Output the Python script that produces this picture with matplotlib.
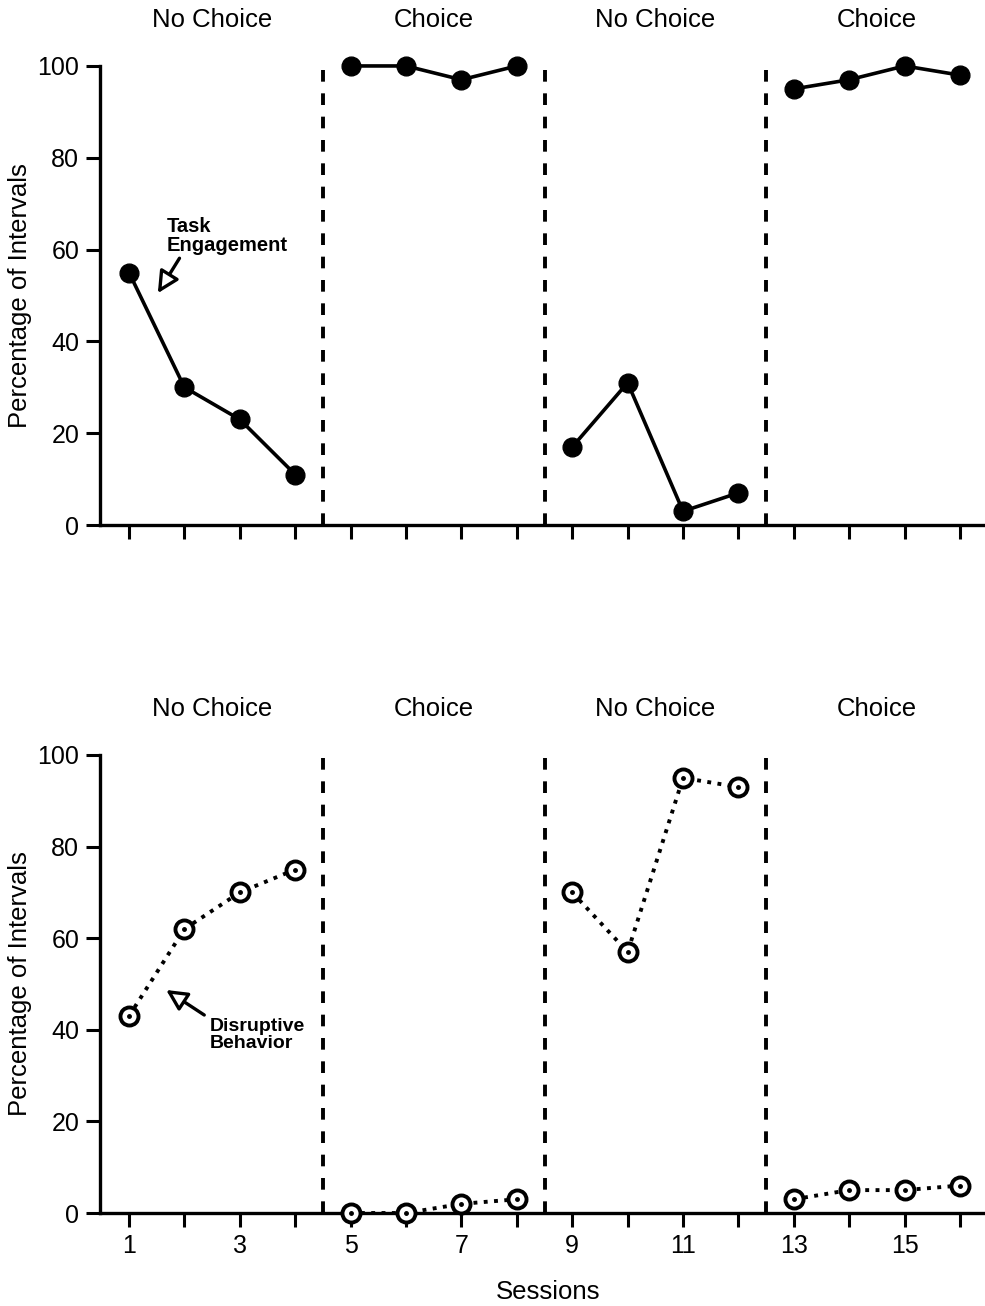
import matplotlib
matplotlib.use("Agg")
import matplotlib.pyplot as plt
import numpy as np

plt.rcParams['font.family'] = ['Liberation Sans', 'DejaVu Sans']

sessions = np.arange(1, 17)
phase_names = ["No Choice", "Choice", "No Choice", "Choice"]
phase_breaks = [4.5, 8.5, 12.5]
phase_groups = [[1, 2, 3, 4], [5, 6, 7, 8], [9, 10, 11, 12], [13, 14, 15, 16]]

# task engagement (top panel)
engagement = [55, 30, 23, 11, 100, 100, 97, 100, 17, 31, 3, 7, 95, 97, 100, 98]
# disruptive behavior (bottom panel)
disruptive = [43, 62, 70, 75, 0, 0, 2, 3, 70, 57, 95, 93, 3, 5, 5, 6]

yticks = [0, 20, 40, 60, 80, 100]
xtick_labels = ["1", "", "3", "", "5", "", "7", "", "9", "", "11", "", "13", "", "15", ""]

fig = plt.figure(figsize=(9.85, 13.06), dpi=100)
ax1 = fig.add_axes([0.1015, 0.598, 0.8985, 0.3515])
ax2 = fig.add_axes([0.1015, 0.0712, 0.8985, 0.3507])


def style_axis(ax, show_labels):
    ax.set_xlim(0.476, 16.45)
    ax.set_ylim(0, 100)
    for s in ["top", "right"]:
        ax.spines[s].set_visible(False)
    ax.spines["left"].set_linewidth(2.4)
    ax.spines["bottom"].set_linewidth(2.4)
    ax.set_yticks(yticks)
    ax.set_xticks(sessions)
    if show_labels:
        ax.set_xticklabels(xtick_labels)
    else:
        ax.set_xticklabels([])
    ax.tick_params(axis="both", direction="out", length=10, width=2.2, labelsize=18, pad=5)
    ax.set_ylabel("Percentage of Intervals", fontsize=18.5, labelpad=4)
    for b in phase_breaks:
        ax.axvline(b, color="black", linestyle=(0, (3, 3)), linewidth=2.8, ymax=1.0, clip_on=False)
    for name, grp in zip(phase_names, phase_groups):
        ax.text(np.mean(grp), 110, name, ha="center", va="center", fontsize=18.5)


style_axis(ax1, False)
style_axis(ax2, True)

eng = np.array(engagement)
dis = np.array(disruptive)
for grp in phase_groups:
    idx = np.array(grp) - 1
    ax1.plot(sessions[idx], eng[idx], color="black", linewidth=2.6, marker="o",
             markersize=13.5, markerfacecolor="black", clip_on=False, zorder=3)
    ax2.plot(sessions[idx], dis[idx], color="black", linewidth=2.8, linestyle=":",
             marker="o", markersize=13, markerfacecolor="white", markeredgewidth=2.8,
             clip_on=False, zorder=3)
    ax2.plot(sessions[idx], dis[idx], linestyle="none", marker="o", markersize=2.5,
             color="black", clip_on=False, zorder=4)

ax1.annotate("Task\nEngagement", xy=(1.52, 50.5), xytext=(1.68, 67),
             fontsize=14.5, fontweight="bold", ha="left", va="top", linespacing=1.0,
             arrowprops=dict(arrowstyle="-|>,head_length=0.9,head_width=0.45",
                             fc="white", ec="black", lw=2.4, shrinkA=0, shrinkB=0,
                             relpos=(0.12, 0.0)))
ax2.annotate("Disruptive\nBehavior", xy=(1.67, 48.7), xytext=(2.45, 42.5),
             fontsize=14, fontweight="bold", ha="left", va="top", linespacing=1.0,
             arrowprops=dict(arrowstyle="-|>,head_length=0.9,head_width=0.45",
                             fc="white", ec="black", lw=2.4, shrinkA=2, shrinkB=0,
                             relpos=(0.0, 1.0)))

fig.text(0.556, 1 - 1292 / 1306, "Sessions", ha="center", va="center", fontsize=18.5)

fig.savefig("out.png", dpi=100)
